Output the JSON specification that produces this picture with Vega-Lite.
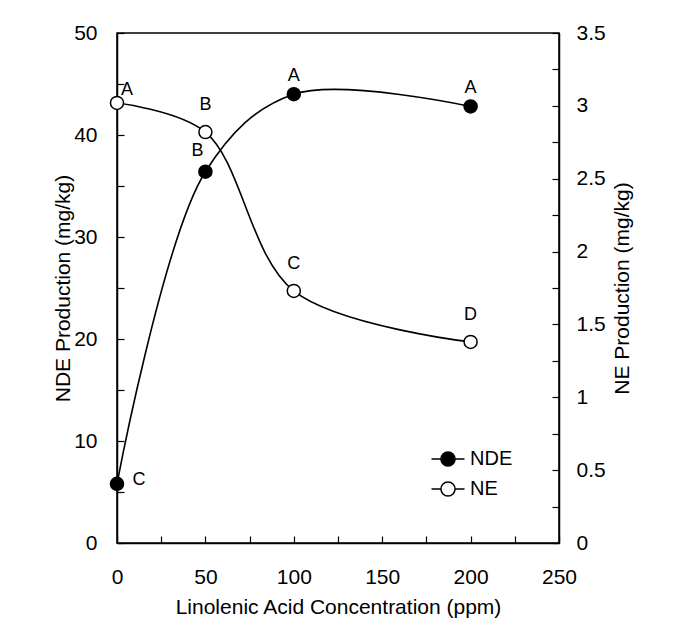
{
  "$schema": "https://vega.github.io/schema/vega-lite/v6.json",
  "width": 442,
  "height": 510,
  "autosize": "none",
  "padding": {"left": 117, "top": 33, "right": 116, "bottom": 95},
  "background": "white",
  "config": {
    "font": "Liberation Sans",
    "view": {"stroke": "black", "strokeWidth": 1.5},
    "axis": {"domainColor": "black", "tickColor": "black", "labelColor": "black", "titleColor": "black", "labelFontSize": 21, "titleFontSize": 21, "titleFontWeight": "normal", "grid": false, "domainWidth": 1.5, "tickWidth": 1.2}
  },
  "datasets": {
    "nde": [
      {"conc": 0, "value": 5.8, "letter": "C"},
      {"conc": 50, "value": 36.4, "letter": "B"},
      {"conc": 100, "value": 44.0, "letter": "A"},
      {"conc": 200, "value": 42.8, "letter": "A"}
    ],
    "ne": [
      {"conc": 0, "value": 3.02, "letter": "A"},
      {"conc": 50, "value": 2.82, "letter": "B"},
      {"conc": 100, "value": 1.73, "letter": "C"},
      {"conc": 200, "value": 1.38, "letter": "D"}
    ]
  },
  "encoding": {
    "x": {"field": "conc", "type": "quantitative", "scale": {"domain": [0, 250], "nice": false},
      "axis": {"title": "Linolenic Acid Concentration (ppm)", "values": [0,25,50,75,100,125,150,175,200,225,250], "labelExpr": "datum.value % 50 === 0 ? datum.label : ''", "labelFlush": false, "tickSize": -7, "labelPadding": 30, "titlePadding": 9}}
  },
  "layer": [
    {
      "data": {"name": "nde"},
      "encoding": {
        "y": {"field": "value", "type": "quantitative", "scale": {"domain": [0, 50], "nice": false},
          "axis": {"title": "NDE Production (mg/kg)", "orient": "left", "values": [0,5,10,15,20,25,30,35,40,45,50], "labelExpr": "datum.value % 10 === 0 ? datum.label : ''", "tickSize": -7, "labelPadding": 27, "titlePadding": 0}}
      },
      "layer": [
        {"mark": {"type": "line", "interpolate": "catmull-rom", "color": "black", "strokeWidth": 1.6}},
        {"mark": {"type": "point", "shape": "circle", "filled": true, "size": 170, "stroke": "black", "strokeWidth": 1.5, "opacity": 1},
          "encoding": {"fill": {"datum": "NDE", "type": "nominal", "scale": {"domain": ["NDE", "NE"], "range": ["black", "white"]},
            "legend": {"title": null, "orient": "none", "legendX": 315, "legendY": 410, "symbolType": "M-1.1,0L-0.47,0M0.47,0L1.1,0M-0.47,0A0.47,0.47 0 1,0 0.47,0A0.47,0.47 0 1,0 -0.47,0Z", "symbolSize": 900, "symbolStrokeColor": "black", "symbolStrokeWidth": 1.5, "symbolOpacity": 1, "labelFontSize": 20, "labelColor": "black", "rowPadding": 3, "labelOffset": 6}}}},
        {"transform": [{"filter": "datum.conc === 0"}], "mark": {"type": "text", "dx": 22, "dy": -4, "fontSize": 18, "color": "black"}, "encoding": {"text": {"field": "letter"}}},
        {"transform": [{"filter": "datum.conc === 50"}], "mark": {"type": "text", "dx": -8, "dy": -21, "fontSize": 18, "color": "black"}, "encoding": {"text": {"field": "letter"}}},
        {"transform": [{"filter": "datum.conc > 50"}], "mark": {"type": "text", "dy": -18, "fontSize": 18, "color": "black"}, "encoding": {"text": {"field": "letter"}}}
      ]
    },
    {
      "data": {"name": "ne"},
      "encoding": {
        "y": {"field": "value", "type": "quantitative", "scale": {"domain": [0, 3.5], "nice": false},
          "axis": {"title": "NE Production (mg/kg)", "orient": "right", "values": [0,0.25,0.5,0.75,1,1.25,1.5,1.75,2,2.25,2.5,2.75,3,3.25,3.5], "labelExpr": "datum.value % 0.5 === 0 ? format(datum.value, '') : ''", "tickSize": -7, "labelPadding": 24, "titlePadding": 27, "titleAngle": 270}}
      },
      "layer": [
        {"mark": {"type": "line", "interpolate": "catmull-rom", "color": "black", "strokeWidth": 1.6}},
        {"mark": {"type": "point", "shape": "circle", "filled": true, "size": 170, "stroke": "black", "strokeWidth": 1.5, "opacity": 1},
          "encoding": {"fill": {"datum": "NE", "type": "nominal"}}},
        {"transform": [{"filter": "datum.conc === 0"}], "mark": {"type": "text", "dx": 10, "dy": -13, "fontSize": 18, "color": "black"}, "encoding": {"text": {"field": "letter"}}},
        {"transform": [{"filter": "datum.conc > 0"}], "mark": {"type": "text", "dy": -27, "fontSize": 18, "color": "black"}, "encoding": {"text": {"field": "letter"}}}
      ]
    }
  ],
  "resolve": {"scale": {"y": "independent"}}
}
